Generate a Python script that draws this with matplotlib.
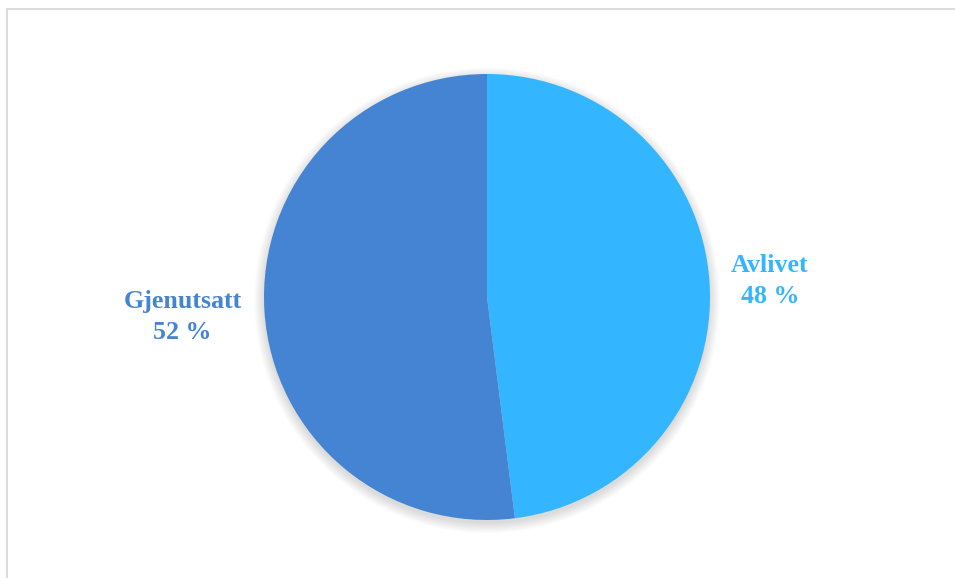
import matplotlib.pyplot as plt
from matplotlib.patches import Circle, Rectangle

# data
labels = ["Avlivet", "Gjenutsatt"]
shares = [48, 52]
colors = ["#33B5FF", "#4584D3"]

W, H = 955, 578
fig = plt.figure(figsize=(W / 100, H / 100), dpi=100)

# thin grey frame of the chart area (right/bottom edges fall outside the image)
fig.patches.append(Rectangle((7 / W, -0.1), 1.2, (H - 9) / H + 0.1,
                             transform=fig.transFigure, fill=False,
                             edgecolor="#D9D9D9", linewidth=1.3))

cx, cy, r = 487, H - 297, 223
ax = fig.add_axes([(cx - r) / W, (cy - r) / H, 2 * r / W, 2 * r / H])

# soft shadow under the pie
for i in range(12):
    ax.add_patch(Circle((0, -0.015), 1.0 + 0.004 * i, color="black",
                        alpha=0.012, linewidth=0, zorder=0, clip_on=False))

ax.pie(shares, colors=colors, startangle=90, counterclock=False, radius=1,
       wedgeprops=dict(linewidth=0), frame=True)
ax.set_xlim(-1, 1)
ax.set_ylim(-1, 1)
ax.axis("off")


def px(x, y):
    return ((x - cx) / r, (H - y - cy) / r)


font = dict(family=["Liberation Serif", "DejaVu Serif"], fontsize=18.7,
            fontweight="bold", ha="center", va="baseline", clip_on=False)

ax.text(*px(770, 272), labels[0], color=colors[0], **font)
ax.text(*px(770, 303), f"{shares[0]} %", color=colors[0], **font)
ax.text(*px(183, 308), labels[1], color=colors[1], **font)
ax.text(*px(182, 339), f"{shares[1]} %", color=colors[1], **font)

fig.savefig("out.png", dpi=100)
